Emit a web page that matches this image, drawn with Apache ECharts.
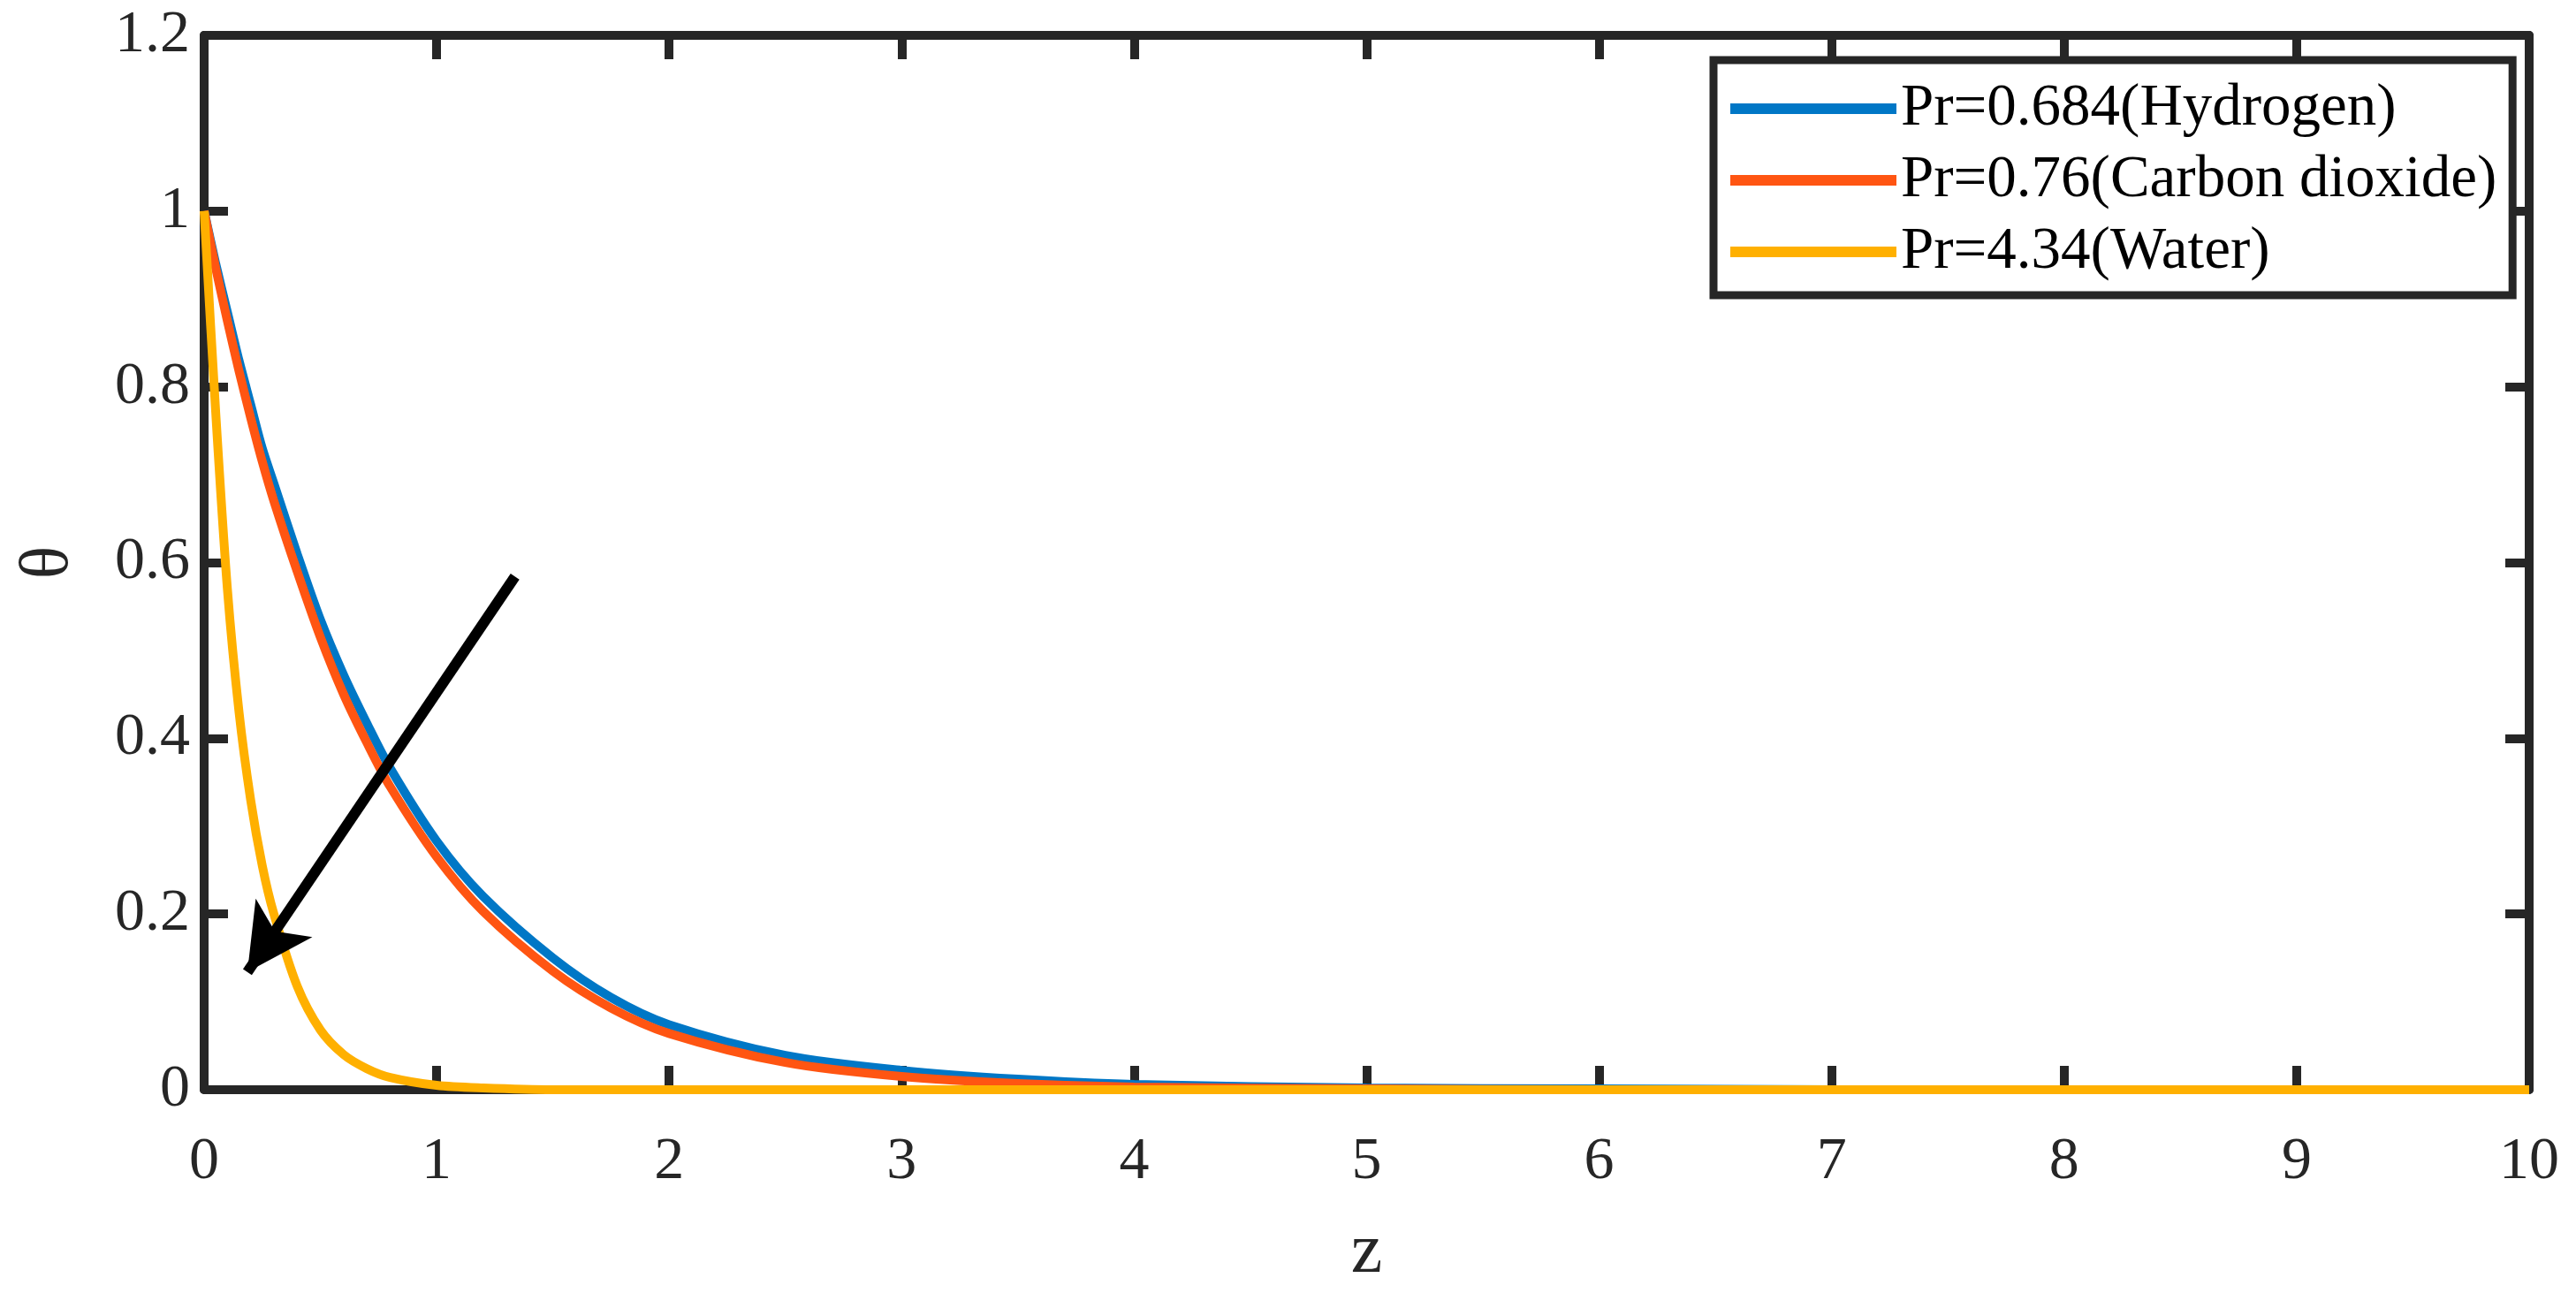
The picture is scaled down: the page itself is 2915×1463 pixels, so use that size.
<!DOCTYPE html>
<html>
<head>
<meta charset="utf-8">
<title>theta vs z</title>
<script src="https://cdn.jsdelivr.net/npm/echarts@6/dist/echarts.min.js"></script>
<style>
  html, body { margin: 0; padding: 0; background: #fff; }
  #chart { width: 2915px; height: 1463px; }
</style>
</head>
<body>
<div id="chart"></div>
<script>
// 横坐标 z
var zValues = [0, 0.05, 0.1, 0.15, 0.2, 0.25, 0.3, 0.4, 0.5, 0.6, 0.7, 0.8, 1.0, 1.2, 1.5, 1.75, 2.0, 2.5, 3.0, 3.5, 4.0, 5, 6, 7, 8, 9, 10];
// 三条曲线
var hydrogen = [1, 0.94, 0.885, 0.83, 0.78, 0.73, 0.69, 0.61, 0.535, 0.472, 0.417, 0.366, 0.283, 0.22, 0.15, 0.105, 0.074, 0.039, 0.022, 0.012, 0.006, 0.002, 0.001, 0, 0, 0, 0];
var carbonDioxide = [1, 0.935, 0.875, 0.818, 0.765, 0.715, 0.67, 0.59, 0.515, 0.45, 0.395, 0.345, 0.265, 0.203, 0.135, 0.093, 0.064, 0.031, 0.015, 0.007, 0.003, 0.001, 0, 0, 0, 0, 0];
var water = [1, 0.77, 0.57, 0.43, 0.33, 0.255, 0.2, 0.118, 0.068, 0.04, 0.024, 0.014, 0.005, 0.002, 0, 0, 0, 0, 0, 0, 0, 0, 0, 0, 0, 0, 0];
var seriesNames = ['Pr=0.684(Hydrogen)', 'Pr=0.76(Carbon dioxide)', 'Pr=4.34(Water)'];
var seriesColors = ['#0077c6', '#ff5512', '#ffb000'];
// 箭头 (起点 -> 终点)
var arrowFrom = [1.337, 0.584];
var arrowTo = [0.186, 0.134];

var font = "'Liberation Serif', 'Times New Roman', serif";
var axisColor = '#262626';

function pairs(ys) {
  return zValues.map(function (z, i) { return [z, ys[i]]; });
}

function lineSeries(name, ys, color) {
  return {
    name: name,
    type: 'line',
    data: pairs(ys),
    symbol: 'none',
    showSymbol: false,
    smooth: 0.3,
    clip: false,
    lineStyle: { color: color, width: 10 },
    itemStyle: { color: color }
  };
}

function boxAxis(extra) {
  return Object.assign({
    axisLine: { show: true, onZero: false, lineStyle: { color: axisColor, width: 10 } },
    axisTick: { show: true, inside: true, length: 27, lineStyle: { color: axisColor, width: 10 } },
    splitLine: { show: false }
  }, extra);
}

var chart = echarts.init(document.getElementById('chart'));
var option = {
  backgroundColor: '#fff',
  animation: false,
  grid: { left: 231, right: 53, top: 40, bottom: 226, containLabel: false },
  legend: {
    data: seriesNames,
    orient: 'vertical',
    left: 1939,
    top: 68,
    itemWidth: 188,
    itemHeight: 24,
    itemGap: 11,
    padding: [20, 18, 14, 13],
    borderColor: axisColor,
    borderWidth: 9,
    backgroundColor: '#fff',
    itemStyle: { opacity: 0 },
    lineStyle: { width: 12 },
    textStyle: { fontFamily: font, fontSize: 67, color: '#000', lineHeight: 70 }
  },
  xAxis: [
    boxAxis({
      type: 'value', min: 0, max: 10, interval: 1, position: 'bottom',
      name: 'z', nameLocation: 'middle', nameGap: 145,
      nameTextStyle: { fontFamily: font, fontSize: 80, color: axisColor },
      axisLabel: { fontFamily: font, fontSize: 68, color: axisColor, margin: 48 }
    }),
    boxAxis({
      type: 'value', min: 0, max: 10, interval: 1, position: 'top',
      axisLabel: { show: false }
    })
  ],
  yAxis: [
    boxAxis({
      type: 'value', min: 0, max: 1.2, interval: 0.2, position: 'left',
      name: 'θ', nameLocation: 'middle', nameGap: 136,
      nameTextStyle: { fontFamily: font, fontSize: 78, color: axisColor },
      axisLabel: { fontFamily: font, fontSize: 68, color: axisColor, margin: 16,
        formatter: function (v) { return String(Math.round(v * 10) / 10); } }
    }),
    boxAxis({
      type: 'value', min: 0, max: 1.2, interval: 0.2, position: 'right',
      axisLabel: { show: false }
    })
  ],
  series: [
    lineSeries(seriesNames[0], hydrogen, seriesColors[0]),
    lineSeries(seriesNames[1], carbonDioxide, seriesColors[1]),
    lineSeries(seriesNames[2], water, seriesColors[2]),
    {
      name: 'arrow',
      type: 'line',
      data: [],
      z: 5,
      markLine: {
        silent: true,
        animation: false,
        symbol: ['none', 'arrow'],
        symbolSize: [58, 74],
        label: { show: false },
        lineStyle: { color: '#000', width: 12, type: 'solid' },
        data: [[{ coord: arrowFrom }, { coord: arrowTo }]]
      }
    }
  ]
};
chart.setOption(option);
</script>
</body>
</html>
